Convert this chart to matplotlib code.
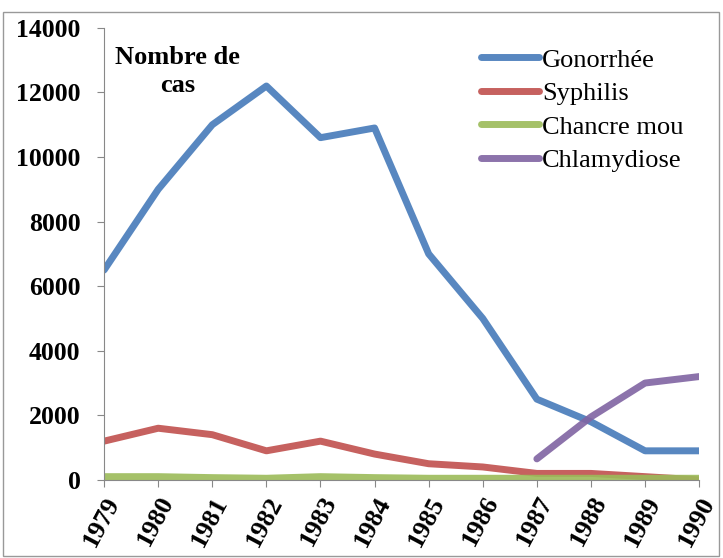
import matplotlib.pyplot as plt
import matplotlib.patches as patches

years = [1979, 1980, 1981, 1982, 1983, 1984, 1985, 1986, 1987, 1988, 1989, 1990]
gonorrhee = [6500, 9000, 11000, 12200, 10600, 10900, 7000, 5000, 2500, 1800, 900, 900]
syphilis = [1200, 1600, 1400, 900, 1200, 800, 500, 400, 200, 200, 100, 0]
chancre_mou = [100, 100, 70, 50, 100, 70, 50, 50, 50, 50, 50, 50]
chlamydiose_years = [1987, 1988, 1989, 1990]
chlamydiose = [650, 1950, 3000, 3200]
y_ticks = [0, 2000, 4000, 6000, 8000, 10000, 12000, 14000]

plt.rcParams['font.family'] = 'Liberation Serif'

fig = plt.figure(figsize=(7.23, 5.58), dpi=100)
fig.patches.append(patches.Rectangle((0.004, 0.003), 0.99, 0.975, transform=fig.transFigure,
                                     fill=False, edgecolor='#999999', linewidth=1))
ax = fig.add_axes([0.144, 0.14, 0.823, 0.81])

lw = 5
ax.plot(years, gonorrhee, color='#4f81bd', lw=lw, label='Gonorrhée', solid_capstyle='round', alpha=0.95)
ax.plot(years, syphilis, color='#c0504d', lw=lw, label='Syphilis', solid_capstyle='round', alpha=0.9)
ax.plot(years, chancre_mou, color='#9bbb59', lw=lw, label='Chancre mou', solid_capstyle='round', alpha=0.9)
ax.plot(chlamydiose_years, chlamydiose, color='#8064a2', lw=lw, label='Chlamydiose', solid_capstyle='round', alpha=0.9)

ax.set_xlim(1979, 1990)
ax.set_ylim(0, 14000)
ax.set_xticks(years)
ax.set_xticklabels([str(y) for y in years], rotation=62, ha='right', rotation_mode='anchor',
                   fontsize=19, fontweight='bold')
ax.set_yticks(y_ticks)
ax.set_yticklabels([str(v) for v in y_ticks], fontsize=18.5, fontweight='bold')
ax.tick_params(axis='both', direction='out', length=5, color='#888888')
ax.tick_params(axis='y', pad=12)
ax.tick_params(axis='x', pad=4)

for side in ['top', 'right']:
    ax.spines[side].set_visible(False)
for side in ['left', 'bottom']:
    ax.spines[side].set_color('#888888')

ax.text(0.123, 0.96, 'Nombre de\ncas', transform=ax.transAxes, ha='center', va='top',
        fontsize=19, fontweight='bold', linespacing=1.3)

ax.legend(loc='upper right', bbox_to_anchor=(1.0, 0.99), frameon=False, fontsize=19,
          handlelength=2.2, handletextpad=0.1, labelspacing=0.38, borderaxespad=0.2)

fig.savefig('out.png', dpi=100)
